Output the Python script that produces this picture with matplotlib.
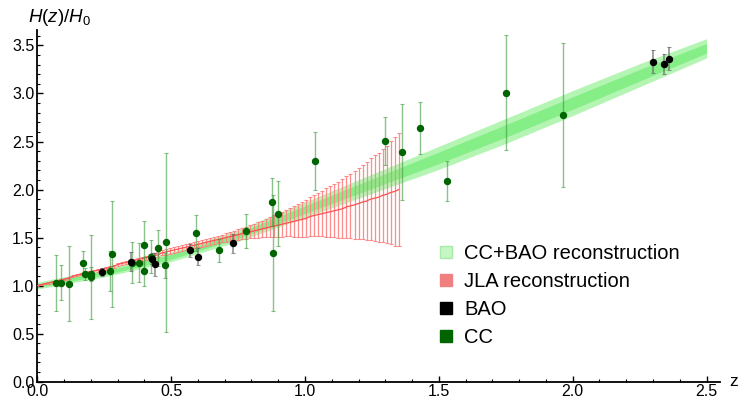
import numpy as np
import matplotlib
matplotlib.use("Agg")
import matplotlib.pyplot as plt
from matplotlib.lines import Line2D
from matplotlib.ticker import MultipleLocator

plt.rcParams['font.family'] = ['Liberation Sans', 'DejaVu Sans']
plt.rcParams['mathtext.fontset'] = 'custom'
plt.rcParams['mathtext.it'] = 'Liberation Sans:italic'
plt.rcParams['mathtext.rm'] = 'Liberation Sans'

# cosmic chronometer data, H(z)/H0
cc_z = [0.07, 0.09, 0.12, 0.17, 0.179, 0.199, 0.2, 0.27, 0.28, 0.352,
        0.3802, 0.4, 0.4004, 0.4247, 0.4497, 0.4783, 0.48, 0.593, 0.68, 0.781,
        0.875, 0.88, 0.9, 1.037, 1.3, 1.363, 1.43, 1.53, 1.75, 1.965]
cc_h = [1.03, 1.03, 1.02, 1.24, 1.12, 1.12, 1.09, 1.15, 1.33, 1.24,
        1.24, 1.42, 1.15, 1.30, 1.39, 1.21, 1.45, 1.55, 1.37, 1.57,
        1.87, 1.34, 1.75, 2.30, 2.51, 2.39, 2.64, 2.09, 3.01, 2.78]
cc_err = [0.29, 0.18, 0.39, 0.12, 0.06, 0.07, 0.44, 0.21, 0.55, 0.21,
          0.20, 0.25, 0.15, 0.17, 0.19, 0.13, 0.93, 0.19, 0.12, 0.18,
          0.25, 0.60, 0.34, 0.30, 0.25, 0.50, 0.27, 0.21, 0.60, 0.75]

# BAO data
bao_z = [0.24, 0.35, 0.43, 0.44, 0.57, 0.60, 0.73, 2.30, 2.34, 2.36]
bao_h = [1.14, 1.25, 1.28, 1.22, 1.37, 1.30, 1.44, 3.33, 3.31, 3.36]
bao_err = [0.04, 0.10, 0.055, 0.115, 0.067, 0.09, 0.10, 0.12, 0.105, 0.12]

# CC+BAO reconstruction band
gp_z = [0.0, 0.25, 0.5, 0.75, 1.0, 1.25, 1.5, 1.75, 2.0, 2.25, 2.5]
gp_mean = [1.00, 1.13, 1.30, 1.52, 1.79, 2.06, 2.33, 2.61, 2.90, 3.19, 3.47]
gp_sig = [0.018, 0.02, 0.025, 0.03, 0.04, 0.05, 0.06, 0.065, 0.065, 0.06, 0.05]

# JLA reconstruction (mean and 1 sigma on its z grid)
jla_z = np.linspace(0, 1.35, 91)
jla_mean = [1.00, 1.01, 1.02, 1.03, 1.04, 1.05, 1.06, 1.07, 1.08, 1.10,
            1.11, 1.12, 1.13, 1.14, 1.15, 1.16, 1.17, 1.18, 1.19, 1.20,
            1.22, 1.23, 1.24, 1.25, 1.26, 1.27, 1.28, 1.29, 1.30, 1.31,
            1.32, 1.34, 1.35, 1.36, 1.37, 1.38, 1.39, 1.40, 1.41, 1.42,
            1.43, 1.44, 1.45, 1.46, 1.47, 1.48, 1.49, 1.50, 1.51, 1.52,
            1.53, 1.54, 1.55, 1.56, 1.57, 1.58, 1.59, 1.60, 1.61, 1.62,
            1.63, 1.64, 1.65, 1.66, 1.67, 1.68, 1.69, 1.70, 1.72, 1.73,
            1.74, 1.75, 1.76, 1.77, 1.78, 1.79, 1.80, 1.82, 1.83, 1.84,
            1.855, 1.87, 1.88, 1.90, 1.91, 1.92, 1.94, 1.95, 1.97, 1.98,
            2.00]
jla_sig = [0.008, 0.008, 0.008, 0.009, 0.009, 0.009, 0.010, 0.010, 0.011, 0.011,
           0.012, 0.012, 0.013, 0.013, 0.014, 0.014, 0.015, 0.016, 0.016, 0.017,
           0.018, 0.019, 0.019, 0.020, 0.021, 0.022, 0.022, 0.023, 0.024, 0.025,
           0.025, 0.026, 0.027, 0.028, 0.028, 0.029, 0.030, 0.031, 0.032, 0.032,
           0.033, 0.034, 0.035, 0.036, 0.038, 0.039, 0.041, 0.043, 0.046, 0.050,
           0.055, 0.058, 0.063, 0.068, 0.074, 0.080, 0.087, 0.094, 0.102, 0.110,
           0.120, 0.129, 0.138, 0.147, 0.162, 0.174, 0.184, 0.193, 0.205, 0.217,
           0.225, 0.238, 0.252, 0.265, 0.275, 0.290, 0.305, 0.320, 0.335, 0.350,
           0.370, 0.385, 0.405, 0.425, 0.445, 0.465, 0.485, 0.505, 0.535, 0.565,
           0.590]

fig = plt.figure(figsize=(7.38, 4.0), dpi=100)
ax = fig.add_axes([0.0505, 0.0458, 0.925, 0.879])

# green band
gm = np.array(gp_mean)
gs = np.array(gp_sig)
ax.fill_between(gp_z, gm - 2 * gs, gm + 2 * gs, color='#b4f5b4', lw=0, zorder=1)
ax.fill_between(gp_z, gm - gs, gm + gs, color='#86ee86', lw=0, zorder=1)

# JLA reconstruction
jm = np.array(jla_mean)
js = np.array(jla_sig)
ax.errorbar(jla_z, jm, yerr=js, fmt='none', ecolor='#ff8080', elinewidth=0.9,
            capsize=1.5, capthick=0.8, alpha=0.9, zorder=2)
ax.plot(jla_z, jm, color='#ff5050', lw=0.9, zorder=3)

# data points
ax.errorbar(cc_z, cc_h, yerr=cc_err, fmt='none', ecolor='#3c9a3c', elinewidth=1.0,
            capsize=1.5, capthick=0.8, alpha=0.6, zorder=4)
ax.plot(cc_z, cc_h, 'o', color='#006400', ms=4.3, zorder=6)
ax.errorbar(bao_z, bao_h, yerr=bao_err, fmt='none', ecolor='#666666', elinewidth=1.2,
            capsize=1.5, capthick=0.8, alpha=0.7, zorder=4)
ax.plot(bao_z, bao_h, 'o', color='black', ms=4.3, zorder=6)

ax.set_xlim(0, 2.55)
ax.set_ylim(0, 3.66)
ax.spines['top'].set_visible(False)
ax.spines['right'].set_visible(False)
for s in ['left', 'bottom']:
    ax.spines[s].set_linewidth(1.3)
ax.xaxis.set_major_locator(MultipleLocator(0.5))
ax.xaxis.set_minor_locator(MultipleLocator(0.1))
ax.yaxis.set_major_locator(MultipleLocator(0.5))
ax.yaxis.set_minor_locator(MultipleLocator(0.1))
ax.xaxis.set_major_formatter(plt.FormatStrFormatter('%.1f'))
ax.yaxis.set_major_formatter(plt.FormatStrFormatter('%.1f'))
ax.tick_params(which='major', direction='in', length=4, width=1, labelsize=11.5, pad=2)
ax.tick_params(which='minor', direction='in', length=2, width=0.8)

fig.text(28 / 738, 1 - 17 / 400, r'$H(z)/H_0$', fontsize=13.5, va='center', ha='left')
fig.text(734 / 738, 1 - 382 / 400, 'z', fontsize=12.5, va='center', ha='center')

handles = [
    Line2D([], [], ls='none', marker='s', ms=8, mfc='#c4f7c4', mec='#a8eaa8'),
    Line2D([], [], ls='none', marker='s', ms=8, mfc='#f08080', mec='#f08080'),
    Line2D([], [], ls='none', marker='s', ms=8, mfc='black', mec='black'),
    Line2D([], [], ls='none', marker='s', ms=8, mfc='#006400', mec='#006400'),
]
labels = ['CC+BAO reconstruction', 'JLA reconstruction', 'BAO', 'CC']
fig.legend(handles, labels, loc='upper left', bbox_to_anchor=(430 / 738, 1 - 236 / 400),
           frameon=False, fontsize=14.5, handlelength=0.8, handletextpad=0.5,
           labelspacing=0.45, borderaxespad=0)

fig.savefig('out.png', dpi=100)
